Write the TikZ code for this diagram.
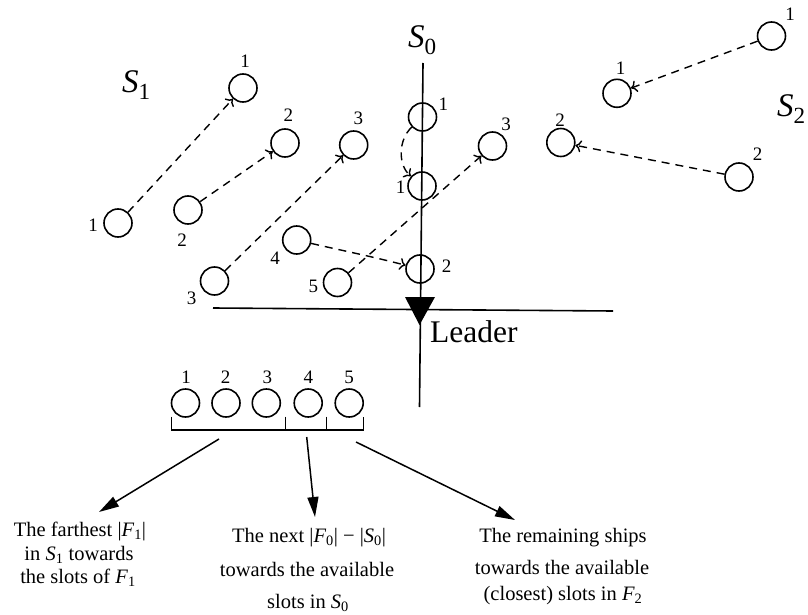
\documentclass[tikz,border=0pt]{standalone}
\usepackage{fontspec}
\setmainfont{Liberation Serif}
\usetikzlibrary{arrows.meta}
\begin{document}
\begin{tikzpicture}[x=1pt,y=-1pt,
  ship/.style={circle,draw,line width=1.6pt,minimum size=28pt,inner sep=0pt},
  num/.style={font=\fontsize{19}{19}\selectfont,inner sep=0pt},
  setlbl/.style={font=\fontsize{33}{33}\selectfont,inner sep=0pt,anchor=base west},
  move/.style={line width=1.4pt,dash pattern=on 8pt off 6pt,-{To[length=6pt,width=12pt]}},
  desc/.style={font=\fontsize{20.5}{20.5}\selectfont,inner sep=0pt,anchor=base},
  assign/.style={line width=1.5pt,-{Triangle[length=20pt,width=11pt]}},
  axis/.style={line width=1.6pt},
]
\useasboundingbox (0,0) rectangle (808,615);

% formation lines
\coordinate (vtop) at (423,63);
\coordinate (vbot) at (419.5,407);
\coordinate (hl) at (213,308);
\coordinate (hr) at (613,311);
\draw[axis] (vtop) -- (vbot);
\draw[axis] (hl) -- (hr);
\fill (405,297) -- (435,297) -- (419.5,325) -- cycle;

% set labels
\node[setlbl] (lS0) at (408,48) {\textit{S}\textsubscript{0}};
\node[setlbl] (lS1) at (122,93) {\textit{S}\textsubscript{1}};
\node[setlbl] (lS2) at (777,117) {\textit{S}\textsubscript{2}};
\node[font=\fontsize{31.5}{31.5}\selectfont,inner sep=0pt,anchor=base west] (leader) at (430,342) {Leader};

% S1 ships
\node[ship] (a1s) at (118,223) {};
\node[ship] (a1t) at (243,88) {};
\node[ship] (b2s) at (188,210) {};
\node[ship] (b2t) at (285,143) {};
\node[ship] (c3s) at (214.5,281) {};
\node[ship] (c3t) at (353.7,145) {};
\node[ship] (n4) at (296.7,240) {};
\node[ship] (n5) at (337.5,282.5) {};
\node[num] (la1s) at (93,225) {1};
\node[num] (la1t) at (245,61) {1};
\node[num] (lb2s) at (182,240) {2};
\node[num] (lb2t) at (288.3,115) {2};
\node[num] (lc3s) at (191.7,298.3) {3};
\node[num] (lc3t) at (358.3,118.3) {3};
\node[num] (ln4) at (275,258.3) {4};
\node[num] (ln5) at (313.3,286.7) {5};

% S0 slots
\node[ship] (s0a) at (422.5,117) {};
\node[ship] (s0b) at (422,186) {};
\node[ship] (s0c) at (420,269) {};
\node[ship] (r3) at (492.5,146) {};
\node[num] (ls0a) at (443.3,104) {1};
\node[num] (ls0b) at (400.7,187.7) {1};
\node[num] (ls0c) at (446.7,266.7) {2};
\node[num] (lr3) at (506,124) {3};

% S2 ships
\node[ship] (e1s) at (771.5,36) {};
\node[ship] (e1t) at (617,93.3) {};
\node[ship] (e2t) at (560.8,142.5) {};
\node[ship] (e2s) at (739,177) {};
\node[num] (le1s) at (790,14) {1};
\node[num] (le1t) at (620.7,68.3) {1};
\node[num] (le2t) at (560,120) {2};
\node[num] (le2s) at (757.7,154) {2};

% moves
\draw[move] (a1s) -- (a1t);
\draw[move] (b2s) -- (b2t);
\draw[move] (c3s) -- (c3t);
\draw[move] (n5) -- (r3);
\draw[move] (n4) .. controls (335,249) and (370,256) .. (s0c);
\draw[move] (s0a) .. controls (398,140) and (398,165) .. (s0b);
\draw[move] (e1s) -- (e1t);
\draw[move] (e2s) -- (e2t);

% sorted row
\node[ship] (q1) at (185.5,403) {};
\node[ship] (q2) at (226,403) {};
\node[ship] (q3) at (266.3,403) {};
\node[ship] (q4) at (308.2,403) {};
\node[ship] (q5) at (349.2,403) {};
\node[num] (lq1) at (186,377.5) {1};
\node[num] (lq2) at (225.7,377.5) {2};
\node[num] (lq3) at (267.3,377.5) {3};
\node[num] (lq4) at (308.3,377.5) {4};
\node[num] (lq5) at (349,377.5) {5};
\draw[line width=1.5pt] (171.7,416.7) -- (171.7,430) -- (363.3,430) -- (363.3,416.7);
\draw[line width=1.3pt] (285.7,416.7) -- (285.7,430);
\draw[line width=1.3pt] (326.7,416.7) -- (326.7,430);

% assignment arrows
\coordinate (br1) at (219,439);
\coordinate (br2) at (306.7,437);
\coordinate (br3) at (356,442);
\coordinate (tp1) at (99,512);
\coordinate (tp2) at (315,517);
\coordinate (tp3) at (515,520);
\draw[assign] (br1) -- (tp1);
\draw[assign] (br2) -- (tp2);
\draw[assign] (br3) -- (tp3);

% descriptions
\node[desc] (f1a) at (80,536.7) {The farthest |\textit{F}\textsubscript{1}|};
\node[desc] (f1b) at (79,560) {in \textit{S}\textsubscript{1} towards};
\node[desc] (f1c) at (78,583.3) {the slots of \textit{F}\textsubscript{1}};
\node[desc] (f0a) at (309,542.7) {The next |\textit{F}\textsubscript{0}| − |\textit{S}\textsubscript{0}|};
\node[desc] (f0b) at (307,576) {towards the available};
\node[desc] (f0c) at (308,608.3) {slots in \textit{S}\textsubscript{0}};
\node[desc] (f2a) at (563,542.7) {The remaining ships};
\node[desc] (f2b) at (562,574) {towards the available};
\node[desc] (f2c) at (563,600) {(closest) slots in \textit{F}\textsubscript{2}};
\end{tikzpicture}
\end{document}
